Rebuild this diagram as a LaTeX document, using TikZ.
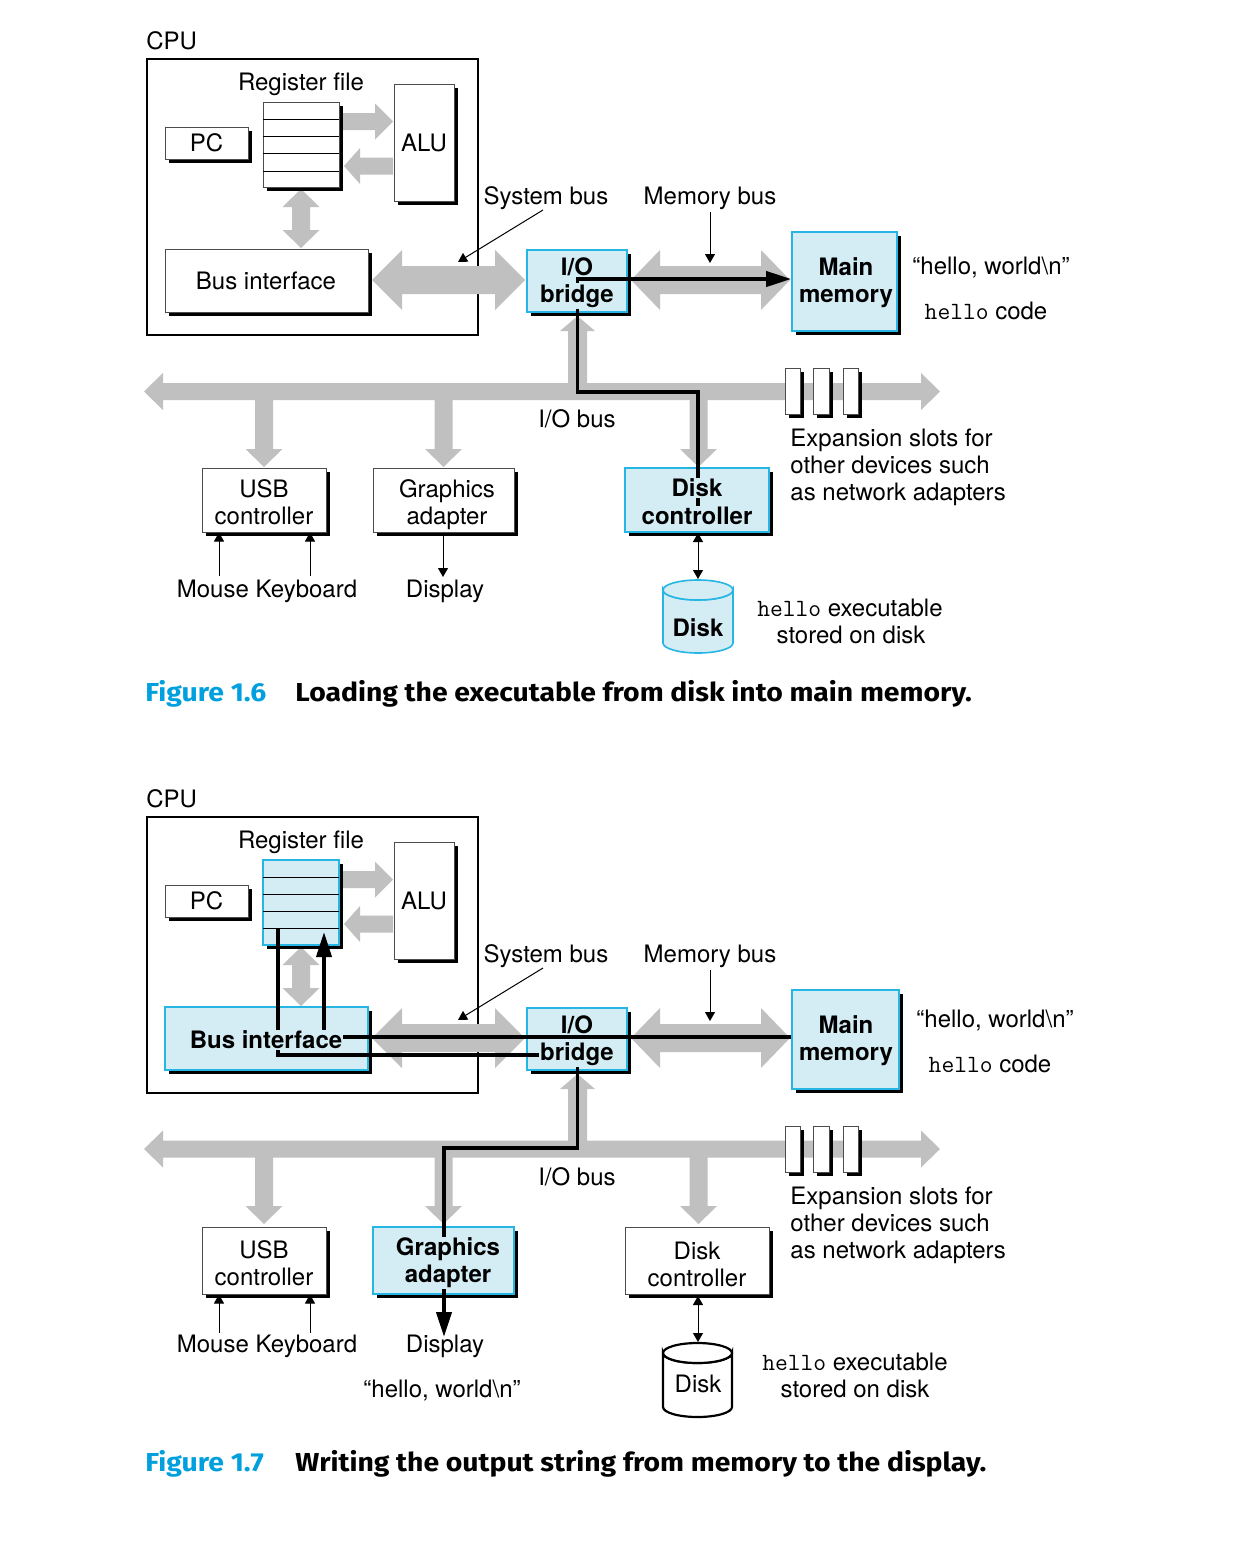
\documentclass[tikz,border=0pt]{standalone}
\usepackage{fontspec}
\setmainfont{TeX Gyre Heros}
\newfontfamily\capfont{Fira Sans}[FakeStretch=1.09]
\usetikzlibrary{shadows,arrows.meta,fit}
\definecolor{bbox}{RGB}{212,236,244}
\definecolor{bline}{RGB}{38,182,228}
\definecolor{gbus}{RGB}{192,192,192}
\definecolor{capc}{RGB}{0,160,222}
\newcommand\monof{\fontsize{12.4}{13.5}\selectfont\ttfamily}
\newcommand\capfnt{\capfont\bfseries\fontsize{13}{14}\selectfont}
% gray bus arrows (pixel units)
\newcommand\GHD[6]{\fill[gbus] (#1,#3) -- ({#1+#6},{#3-#5}) -- ({#1+#6},{#3-#4}) -- ({#2-#6},{#3-#4}) -- ({#2-#6},{#3-#5}) -- (#2,#3) -- ({#2-#6},{#3+#5}) -- ({#2-#6},{#3+#4}) -- ({#1+#6},{#3+#4}) -- ({#1+#6},{#3+#5}) -- cycle;}
\newcommand\GVD[6]{\fill[gbus] (#1,#2) -- ({#1+#5},{#2+#6}) -- ({#1+#4},{#2+#6}) -- ({#1+#4},{#3-#6}) -- ({#1+#5},{#3-#6}) -- (#1,#3) -- ({#1-#5},{#3-#6}) -- ({#1-#4},{#3-#6}) -- ({#1-#4},{#2+#6}) -- ({#1-#5},{#2+#6}) -- cycle;}
\newcommand\GHR[6]{\fill[gbus] (#1,{#3-#4}) -- ({#2-#6},{#3-#4}) -- ({#2-#6},{#3-#5}) -- (#2,#3) -- ({#2-#6},{#3+#5}) -- ({#2-#6},{#3+#4}) -- (#1,{#3+#4}) -- cycle;}
\newcommand\GHL[6]{\fill[gbus] (#1,{#3-#4}) -- ({#2+#6},{#3-#4}) -- ({#2+#6},{#3-#5}) -- (#2,#3) -- ({#2+#6},{#3+#5}) -- ({#2+#6},{#3+#4}) -- (#1,{#3+#4}) -- cycle;}
\newcommand\GVDn[6]{\fill[gbus] ({#1-#4},#2) -- ({#1-#4},{#3-#6}) -- ({#1-#5},{#3-#6}) -- (#1,#3) -- ({#1+#5},{#3-#6}) -- ({#1+#4},{#3-#6}) -- ({#1+#4},#2) -- cycle;}
\newcommand\GVUp[6]{\fill[gbus] ({#1-#4},#2) -- ({#1-#4},{#3+#6}) -- ({#1-#5},{#3+#6}) -- (#1,#3) -- ({#1+#5},{#3+#6}) -- ({#1+#4},{#3+#6}) -- ({#1+#4},#2) -- cycle;}
\begin{document}
\begin{tikzpicture}[x=0.5pt,y=-0.5pt,
  every node/.style={font=\fontsize{12}{13.5}\selectfont},
  hwbox/.style={draw=black!70, line width=0.5pt, fill=white, inner sep=0pt,
    drop shadow={shadow xshift=2.2pt,shadow yshift=-2.2pt,fill=black,opacity=1}},
  bluehw/.style={hwbox, draw=bline, fill=bbox, line width=0.8pt},
  cpubox/.style={draw=black, line width=1.4pt, inner sep=0pt},
  boldtxt/.style={font=\fontsize{12}{13.5}\selectfont\bfseries},
  kow/.style={inner sep=0.5pt, align=center, fill=white},
  kob/.style={inner sep=0.5pt, align=center, fill=bbox},
  plain/.style={inner sep=0.5pt, align=center},
  datapath/.style={line width=1.9pt, line cap=butt, line join=miter},
  bigtip/.style={-{Triangle[length=12.5pt,width=7.5pt]}},
  thinarrow/.style={line width=0.5pt, -{Triangle[length=4.5pt,width=5pt]}},
  thinboth/.style={line width=0.5pt, {Triangle[length=4.5pt,width=5pt]}-{Triangle[length=4.5pt,width=5pt]}},
  captxt/.style={anchor=base west, inner sep=0pt, font=\capfnt}
]
\fill[white] (0,0) rectangle (1252,1542);
\useasboundingbox (0,0) rectangle (1252,1542);

%%%%%%%%%%%%%%%%%%%% FIGURE 1.6 %%%%%%%%%%%%%%%%%%%%
\node[anchor=west, inner sep=0pt] (cpuA) at (146,41) {CPU};
\node[cpubox, fit={(147,59) (478,335)}] (cpuboxA) {};

% gray buses
\GHR{343}{393}{121.5}{8.5}{18}{18}
\GHL{393}{344}{166}{8.5}{18}{16}
\GVD{301}{189}{248}{9}{18.5}{18}
\GHD{372}{525}{280}{14}{30}{30}
\GHD{631}{790}{280}{14}{30}{29}
\GHD{144}{940}{391.5}{8.5}{18.5}{19}
\GVUp{577.5}{392}{316}{9.5}{17.5}{15}
\GVDn{264}{391}{467}{9}{18.5}{18}
\GVDn{443.5}{391}{467}{9}{18.5}{18}
\GVDn{698.5}{391}{467}{9}{18.5}{18}

% boxes
\node[hwbox, fit={(263,102) (339,187)}] (rfA) {};
\foreach \yy in {119,136,153,171} \draw[line width=0.5pt] (263,\yy) -- (339,\yy);
\node[hwbox, fit={(165,127) (248,159)}] (pcA) {};
\node[hwbox, fit={(394,84) (454,201)}] (aluA) {};
\node[hwbox, fit={(165,249) (368,312)}] (biA) {};
\node[bluehw, fit={(527,250) (627,312)}] (iobA) {};
\node[bluehw, fit={(792,232) (897,331)}] (mmA) {};
\node[hwbox, fit={(202,468) (326,532)}] (usbA) {};
\node[hwbox, fit={(373,468) (514,532)}] (gfxA) {};
\node[bluehw, fit={(625,468) (769,532)}] (dcA) {};
\node[hwbox, fit={(785,368) (800,414)}] (s1A) {};
\node[hwbox, fit={(813,368) (829,414)}] (s2A) {};
\node[hwbox, fit={(843,368) (858,414)}] (s3A) {};

% disk cylinder
\filldraw[fill=bbox, draw=bline, line width=0.8pt] (663,590) -- (663,643) arc[start angle=180, end angle=0, x radius=35, y radius=10] -- (733,590) arc[start angle=0, end angle=180, x radius=35, y radius=10] -- cycle;
\filldraw[fill=bbox, draw=bline, line width=0.8pt] (698,590) ellipse [x radius=35, y radius=10];
\node[inner sep=0pt, fit={(663,580) (733,653)}] (dskA) {};

% data path
\coordinate (startA) at (698,509);
\draw[datapath, bigtip] (startA) -- (698,392) -- (577.5,392) -- (577.5,279) -- (mmA.west |- 0,279);

% small arrows
\coordinate (sbA1) at (543,210);
\coordinate (sbA2) at (458,262);
\draw[thinarrow] (sbA1) -- (sbA2);
\coordinate (mbA1) at (710,212);
\draw[thinarrow] (mbA1) -- (710,263);
\coordinate (mouseA) at (219,576);
\coordinate (keybA) at (310,576);
\draw[thinarrow] (mouseA) -- (mouseA |- usbA.south);
\draw[thinarrow] (keybA) -- (keybA |- usbA.south);
\coordinate (dispA) at (443,577);
\draw[thinarrow] (dispA |- gfxA.south) -- (dispA);
\draw[thinboth] (698,533) -- (698,579);

% texts
\node[plain] (rfAl) at (301,84) {Register file};
\node[kow] (pcAl) at (pcA) {PC};
\node[kow] (aluAl) at (aluA) {ALU};
\node[kow] (biAl) at (266,281) {Bus interface};
\node[kob, boldtxt] (iobA1) at (577,267) {I/O};
\node[kob, boldtxt] (iobA2) at (577,296) {bridge};
\node[kob, boldtxt] (mmAl) at (846,283) {Main\\memory};
\node[plain] (hwA) at (991,268) {“hello, world\textbackslash n”};
\node[plain] (hcA) at (986,311) {{\monof hello} code};
\node[plain] (sbAl) at (546,198) {System bus};
\node[plain] (mbAl) at (710,198) {Memory bus};
\node[plain] (iobusA) at (577,419) {I/O bus};
\node[anchor=west, align=left, inner sep=0pt] (expA) at (790,467) {Expansion slots for\\other devices such\\as network adapters};
\node[kow] (usbAl) at (264,502) {USB\\controller};
\node[kow] (gfxAl) at (447,504.5) {Graphics\\adapter};
\node[kob, boldtxt] (dcA1) at (697,488) {Disk};
\node[kob, boldtxt] (dcA2) at (697,516) {controller};
\node[plain] (mkA) at (267,591) {Mouse Keyboard};
\node[plain] (dpA) at (445,591) {Display};
\node[plain, boldtxt] (dskAl) at (698,628) {Disk};
\node[plain] (heA) at (850,608) {{\monof hello} executable};
\node[plain] (soA) at (851,635) {stored on disk};
\node[captxt, text=capc] (capA1) at (145,701) {Figure 1.6};
\node[captxt] (capA2) at (295,701) {Loading the executable from disk into main memory.};

%%%%%%%%%%%%%%%%%%%% FIGURE 1.7 %%%%%%%%%%%%%%%%%%%%
\node[anchor=west, inner sep=0pt] (cpuB) at (146,799) {CPU};
\node[cpubox, fit={(147,817) (478,1093)}] (cpuboxB) {};

\GHR{343}{393}{879.5}{8.5}{18}{18}
\GHL{393}{344}{924}{8.5}{18}{16}
\GVD{301}{947}{1006}{9}{18.5}{18}
\GHD{372}{525}{1038}{14}{30}{30}
\GHD{631}{790}{1038}{14}{30}{29}
\GHD{144}{940}{1149}{8.5}{18.5}{19}
\GVUp{577.5}{1150}{1074}{9.5}{17.5}{15}
\GVDn{264}{1149}{1224}{9}{18.5}{18}
\GVDn{443.5}{1149}{1224}{9}{18.5}{18}
\GVDn{698.5}{1149}{1224}{9}{18.5}{18}

\node[bluehw, fit={(263,860) (339,945)}] (rfB) {};
\foreach \yy in {877,894,911,928} \draw[line width=0.5pt] (263,\yy) -- (339,\yy);
\node[hwbox, fit={(165,885) (248,917)}] (pcB) {};
\node[hwbox, fit={(394,842) (454,959)}] (aluB) {};
\node[bluehw, fit={(165,1007) (368,1070)}] (biB) {};
\node[bluehw, fit={(527,1008) (627,1070)}] (iobB) {};
\node[bluehw, fit={(792,990) (899,1089)}] (mmB) {};
\node[hwbox, fit={(202,1227) (326,1294)}] (usbB) {};
\node[bluehw, fit={(373,1227) (514,1294)}] (gfxB) {};
\node[hwbox, fit={(625,1227) (769,1294)}] (dcB) {};
\node[hwbox, fit={(785,1126) (800,1172)}] (s1B) {};
\node[hwbox, fit={(813,1126) (829,1172)}] (s2B) {};
\node[hwbox, fit={(843,1126) (858,1172)}] (s3B) {};

\filldraw[fill=white, draw=black, line width=1.1pt] (663,1353) -- (663,1407) arc[start angle=180, end angle=0, x radius=34.5, y radius=10] -- (732,1353) arc[start angle=0, end angle=180, x radius=34.5, y radius=10] -- cycle;
\filldraw[fill=white, draw=black, line width=1.1pt] (697.5,1353) ellipse [x radius=34.5, y radius=10];
\node[inner sep=0pt, fit={(663,1343) (732,1417)}] (dskB) {};

% data paths
\coordinate (mmIn) at (mmB.west |- 0,1037);
\draw[datapath, bigtip] (mmIn) -- (324,1037) -- (324,932);
\coordinate (rfOut) at (278,928);
\draw[datapath, bigtip] (rfOut) -- (278,1055) -- (577.5,1055) -- (577.5,1148) -- (444,1148) -- (444,1337);

\coordinate (sbB1) at (543,968);
\coordinate (sbB2) at (458,1020);
\draw[thinarrow] (sbB1) -- (sbB2);
\coordinate (mbB1) at (710,970);
\draw[thinarrow] (mbB1) -- (710,1021);
\coordinate (mouseB) at (219,1333);
\coordinate (keybB) at (310,1333);
\draw[thinarrow] (mouseB) -- (mouseB |- usbB.south);
\draw[thinarrow] (keybB) -- (keybB |- usbB.south);
\draw[thinboth] (698,1296) -- (698,1342);

\node[plain] (rfBl) at (301,842) {Register file};
\node[kow] (pcBl) at (pcB) {PC};
\node[kow] (aluBl) at (aluB) {ALU};
\node[kob, boldtxt] (biBl) at (266,1040) {Bus interface};
\node[kob, boldtxt] (iobB1) at (577,1025) {I/O};
\node[kob, boldtxt] (iobB2) at (577,1054) {bridge};
\node[kob, boldtxt] (mmBl) at (846,1041) {Main\\memory};
\node[plain] (hwB) at (995,1021) {“hello, world\textbackslash n”};
\node[plain] (hcB) at (990,1064) {{\monof hello} code};
\node[plain] (sbBl) at (546,956) {System bus};
\node[plain] (mbBl) at (710,956) {Memory bus};
\node[plain] (iobusB) at (577,1177) {I/O bus};
\node[anchor=west, align=left, inner sep=0pt] (expB) at (790,1225) {Expansion slots for\\other devices such\\as network adapters};
\node[kow] (usbBl) at (264,1263) {USB\\controller};
\node[kob, boldtxt] (gfxBl) at (448,1263) {Graphics\\adapter};
\node[kow] (dcBl) at (697,1264) {Disk\\controller};
\node[plain] (mkB) at (267,1346) {Mouse Keyboard};
\node[plain] (dpB) at (445,1346) {Display};
\node[plain] (hwB2) at (442,1390) {“hello, world\textbackslash n”};
\node[plain] (dskBl) at (698,1384) {Disk};
\node[plain] (heB) at (855,1362) {{\monof hello} executable};
\node[plain] (soB) at (855,1389) {stored on disk};
\node[captxt, text=capc] (capB1) at (145,1471) {Figure 1.7};
\node[captxt] (capB2) at (295,1471) {Writing the output string from memory to the display.};
\end{tikzpicture}
\end{document}
